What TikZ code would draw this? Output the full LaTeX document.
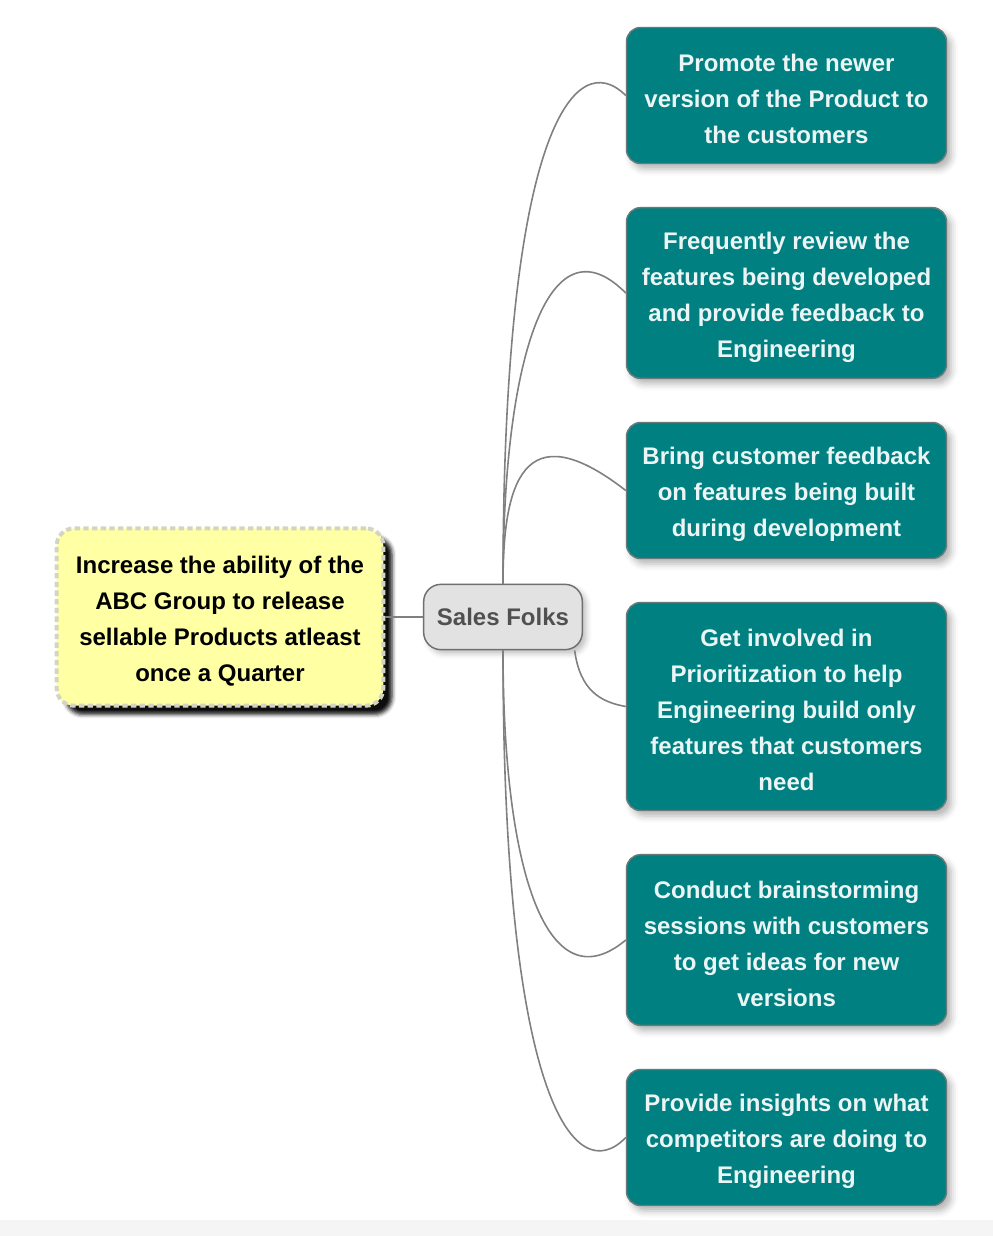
\documentclass[tikz,border=0pt]{standalone}
\usepackage{fontspec}
\setmainfont{Liberation Sans}
\usetikzlibrary{shadows.blur}

\definecolor{goalfill}{RGB}{255,255,163}
\definecolor{goalline}{RGB}{212,212,196}
\definecolor{hubfill}{RGB}{226,226,226}
\definecolor{hubline}{RGB}{112,112,112}
\definecolor{hubtext}{RGB}{80,80,80}
\definecolor{taskfill}{RGB}{0,128,128}
\definecolor{taskline}{RGB}{104,122,122}
\definecolor{tasktext}{RGB}{236,245,245}
\definecolor{linkgray}{RGB}{128,128,128}

\begin{document}
\begin{tikzpicture}[x=0.75pt,y=0.75pt,yscale=-1,xscale=1,
  every node/.style={font=\bfseries\fontsize{18}{27}\selectfont, align=center},
  goal/.style={draw=goalline, line width=3pt, dash pattern=on 4pt off 2.5pt,
    fill=goalfill, text=black, rounded corners=13pt,
    minimum width=245pt, minimum height=133pt,
    blur shadow={shadow xshift=6.5pt, shadow yshift=-6.5pt, shadow blur radius=3pt,
      shadow opacity=95}},
  hub/.style={draw=hubline, line width=1.1pt, fill=hubfill, text=hubtext,
    rounded corners=13pt, minimum width=119pt, minimum height=49pt,
    blur shadow={shadow xshift=3pt, shadow yshift=-3pt, shadow blur radius=4pt,
      shadow opacity=25}},
  task/.style={draw=taskline, line width=1.1pt, fill=taskfill, text=tasktext,
    rounded corners=10.5pt, minimum width=240pt,
    blur shadow={shadow xshift=3.5pt, shadow yshift=-4pt, shadow blur radius=5pt,
      shadow opacity=30}},
  link/.style={draw=linkgray, line width=1.2pt}]
%set diagram size
\path[use as bounding box] (0,0) rectangle (993,1236);
\fill[black!4] (0,1220) rectangle (993,1236);

% Goal
\node[goal] (goal) at (220,617) {\strut Increase the ability of the\\ABC Group to release\\sellable Products atleast\\once a Quarter};
% Hub
\node[hub] (sales) at (503,617) {Sales Folks};

% Tasks
\node[task, minimum height=102pt] (promote) at (786.5,95.5) {\strut Promote the newer\\version of the Product to\\the customers};
\node[task, minimum height=128pt] (review) at (786.5,293) {\strut Frequently review the\\features being developed\\and provide feedback to\\Engineering};
\node[task, minimum height=102pt] (feedback) at (786.5,490.5) {\strut Bring customer feedback\\on features being built\\during development};
\node[task, minimum height=156pt] (priority) at (786.5,706.5) {\strut Get involved in\\Prioritization to help\\Engineering build only\\features that customers\\need};
\node[task, minimum height=128pt] (brainstorm) at (786.5,940) {\strut Conduct brainstorming\\sessions with customers\\to get ideas for new\\versions};
\node[task, minimum height=102pt] (insights) at (786.5,1137.5) {\strut Provide insights on what\\competitors are doing to\\Engineering};

% Links
\draw[link] (goal.east) -- (sales.west);
\draw[link] (sales.north) .. controls (503,130) and (575,45) .. (promote.west);
\draw[link] (sales.north) .. controls (503,360) and (548,215) .. (review.west);
\draw[link] (sales.north) .. controls (503,485) and (522,410) .. (feedback.west);
\draw[link] (sales.-25) .. controls (580,690) and (600,702) .. (priority.west);
\draw[link] (sales.south) .. controls (503,874) and (548,1005) .. (brainstorm.west);
\draw[link] (sales.south) .. controls (503,1100) and (575,1190) .. (insights.west);

\end{tikzpicture}
\end{document}
